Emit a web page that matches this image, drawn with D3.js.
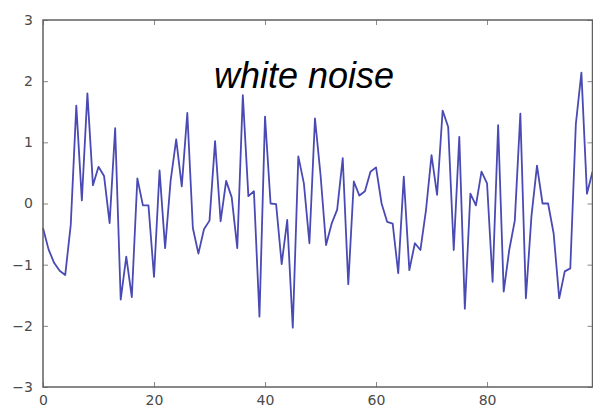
<!DOCTYPE html>
<html>
<head>
<meta charset="utf-8">
<script src="https://cdn.jsdelivr.net/npm/d3@7"></script>
<style>
    body { margin: 0; background: #ffffff; }
    .tick text { font-family: "DejaVu Sans", sans-serif; fill: #4a4a4a; }
</style>
</head>
<body>
<div id="chart-container"></div>
<script>
// Noise samples (index 0..99)
const values = [
    -0.40, -0.75, -0.97, -1.10, -1.17, -0.35, 1.60, 0.05, 1.80, 0.30,
    0.60, 0.45, -0.32, 1.23, -1.57, -0.87, -1.53, 0.41, -0.03, -0.03,
    -1.20, 0.54, -0.73, 0.38, 1.05, 0.28, 1.48, -0.40, -0.82, -0.42,
    -0.28, 1.02, -0.29, 0.37, 0.10, -0.73, 1.77, 0.12, 0.20, -1.85,
    1.42, 0.00, -0.01, -0.99, -0.27, -2.03, 0.77, 0.33, -0.65, 1.39,
    0.47, -0.68, -0.33, -0.10, 0.74, -1.32, 0.36, 0.13, 0.20, 0.52,
    0.59, 0.00, -0.30, -0.33, -1.14, 0.44, -1.09, -0.65, -0.76, -0.11,
    0.79, 0.14, 1.52, 1.25, -0.76, 1.09, -1.72, 0.16, -0.03, 0.52,
    0.33, -1.28, 1.28, -1.44, -0.76, -0.28, 1.47, -1.55, -0.21, 0.62,
    0.00, 0.00, -0.49, -1.55, -1.11, -1.06, 1.30, 2.14, 0.16, 0.52
];
const xTicks = [0, 20, 40, 60, 80];
const yTicks = [-3, -2, -1, 0, 1, 2, 3];
const title = 'white noise';

const W = 593, H = 409;
const margin = { top: 20, right: 0.5, bottom: 22, left: 43 };
const width = W - margin.left - margin.right;
const height = H - margin.top - margin.bottom;

const svg = d3.select('#chart-container')
    .append('svg')
    .attr('width', W)
    .attr('height', H)
    .append('g')
    .attr('transform', `translate(${margin.left},${margin.top})`);

const xScale = d3.scaleLinear().domain([0, 99]).range([0, width]);
const yScale = d3.scaleLinear().domain([-3, 3]).range([height, 0]);

const fmt = d => String(d).replace('-', '\u2212');

// Axes with small inward ticks, matplotlib style
svg.append('g')
    .attr('transform', `translate(0,${height})`)
    .call(d3.axisBottom(xScale).tickValues(xTicks).tickSize(-5).tickPadding(8).tickFormat(fmt))
    .call(g => g.select('.domain').remove())
    .call(g => g.selectAll('text').attr('font-size', 14));

svg.append('g')
    .call(d3.axisTop(xScale).tickValues(xTicks).tickSize(-5).tickFormat(''))
    .call(g => g.select('.domain').remove());

svg.append('g')
    .call(d3.axisLeft(yScale).tickValues(yTicks).tickSize(-5).tickPadding(10).tickFormat(fmt))
    .call(g => g.select('.domain').remove())
    .call(g => g.selectAll('text').attr('font-size', 14));

svg.append('g')
    .attr('transform', `translate(${width},0)`)
    .call(d3.axisRight(yScale).tickValues(yTicks).tickSize(-5).tickFormat(''))
    .call(g => g.select('.domain').remove());

svg.selectAll('.tick line').attr('stroke', '#888').attr('stroke-width', 1);

// Line
const line = d3.line()
    .x((d, i) => xScale(i))
    .y(d => yScale(d));

svg.append('path')
    .datum(values)
    .attr('fill', 'none')
    .attr('stroke', '#4a4ab4')
    .attr('stroke-width', 1.8)
    .attr('stroke-linejoin', 'round')
    .attr('d', line);

// Frame
svg.append('rect')
    .attr('x', 0)
    .attr('y', 0)
    .attr('width', width)
    .attr('height', height)
    .attr('fill', 'none')
    .attr('stroke', '#606060')
    .attr('stroke-width', 1.5);

// Title inside the plot
svg.append('text')
    .attr('x', 304 - margin.left)
    .attr('y', 88 - margin.top)
    .attr('text-anchor', 'middle')
    .attr('font-family', '"Liberation Sans", Arial, sans-serif')
    .attr('font-style', 'italic')
    .attr('font-size', 36)
    .attr('fill', '#000')
    .text(title);
</script>
</body>
</html>
